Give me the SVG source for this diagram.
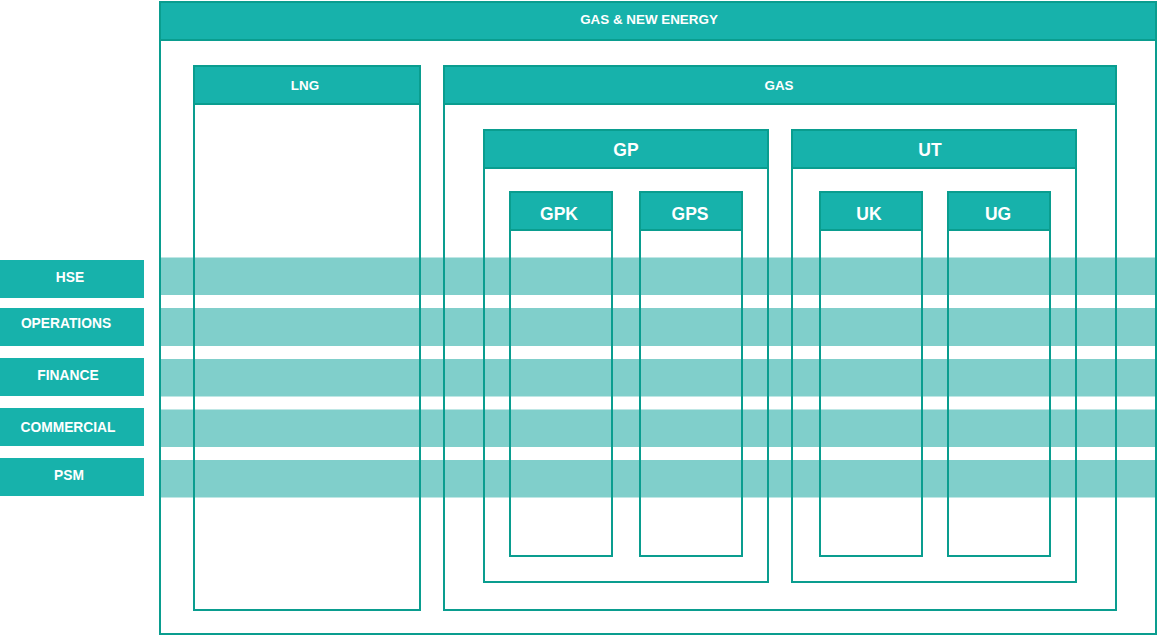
<svg xmlns="http://www.w3.org/2000/svg" width="1158" height="636" viewBox="0 0 1158 636">
<style>
.body{fill:none;stroke:#0a9d8f;stroke-width:2}
.hdr{fill:#17b2ab;stroke:#0a9d8f;stroke-width:2}
.band{fill:#80cfcb}
.lbl{fill:#17b2ab}
.t{font-family:"Liberation Sans",Arial,sans-serif;font-weight:bold;fill:#fff;text-anchor:middle;dominant-baseline:central}
.s{font-size:13.4px}
.m{font-size:13.8px}
.l{font-size:17.5px}
</style>
<rect x="0" y="0" width="1158" height="636" fill="#fff"/>
<g id="bands">
<rect class="band" x="160" y="257.5" width="996" height="37.5"/>
<rect class="band" x="160" y="308" width="996" height="38"/>
<rect class="band" x="160" y="359" width="996" height="37.5"/>
<rect class="band" x="160" y="409.5" width="996" height="37.5"/>
<rect class="band" x="160" y="460" width="996" height="37.5"/>
</g>
<g id="hse"><rect class="lbl" x="0" y="260" width="144" height="38"/><text class="t m" x="70" y="277">HSE</text></g>
<g id="operations"><rect class="lbl" x="0" y="308" width="144" height="38"/><text class="t m" x="66" y="323">OPERATIONS</text></g>
<g id="finance"><rect class="lbl" x="0" y="358" width="144" height="38"/><text class="t m" x="68" y="375">FINANCE</text></g>
<g id="commercial"><rect class="lbl" x="0" y="408" width="144" height="38"/><text class="t m" x="68" y="427">COMMERCIAL</text></g>
<g id="psm"><rect class="lbl" x="0" y="458" width="144" height="38"/><text class="t m" x="69" y="475">PSM</text></g>
<g id="gas-new-energy"><rect class="body" x="160" y="2" width="996" height="632"/><rect class="hdr" x="160" y="2" width="996" height="38"/><text class="t s" x="649" y="19">GAS &amp; NEW ENERGY</text></g>
<g id="lng"><rect class="body" x="194" y="66" width="226" height="544"/><rect class="hdr" x="194" y="66" width="226" height="38"/><text class="t s" x="305" y="85">LNG</text></g>
<g id="gas"><rect class="body" x="444" y="66" width="672" height="544"/><rect class="hdr" x="444" y="66" width="672" height="38"/><text class="t s" x="779" y="85">GAS</text></g>
<g id="gp"><rect class="body" x="484" y="130" width="284" height="452"/><rect class="hdr" x="484" y="130" width="284" height="38"/><text class="t l" x="626" y="150">GP</text></g>
<g id="ut"><rect class="body" x="792" y="130" width="284" height="452"/><rect class="hdr" x="792" y="130" width="284" height="38"/><text class="t l" x="930" y="150">UT</text></g>
<g id="gpk"><rect class="body" x="510" y="192" width="102" height="364"/><rect class="hdr" x="510" y="192" width="102" height="38"/><text class="t l" x="559" y="214">GPK</text></g>
<g id="gps"><rect class="body" x="640" y="192" width="102" height="364"/><rect class="hdr" x="640" y="192" width="102" height="38"/><text class="t l" x="690" y="214">GPS</text></g>
<g id="uk"><rect class="body" x="820" y="192" width="102" height="364"/><rect class="hdr" x="820" y="192" width="102" height="38"/><text class="t l" x="869" y="214">UK</text></g>
<g id="ug"><rect class="body" x="948" y="192" width="102" height="364"/><rect class="hdr" x="948" y="192" width="102" height="38"/><text class="t l" x="998" y="214">UG</text></g>
<g id="connectors"></g>
</svg>
